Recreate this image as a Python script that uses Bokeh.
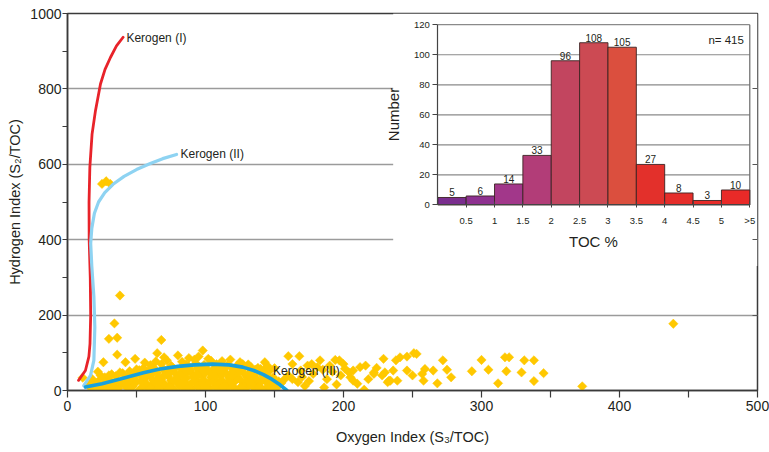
import numpy as np
from bokeh.plotting import figure
from bokeh.models import Range1d, LinearAxis, FixedTicker, CustomJSTickFormatter
from bokeh.core.properties import value
from bokeh.embed import file_html
from bokeh.resources import INLINE

FONT = "Liberation Sans"
TXT = "#231f20"

# ---------------- data: scatter (Oxygen Index, Hydrogen Index) ----------------
rowA_x = [18, 24, 31, 37, 44, 52, 58, 63, 71, 77, 84, 90, 97, 103, 110, 116, 122, 129, 135, 141, 148]
rowA_y = [4, 7, 3, 6, 5, 2, 8, 4, 6, 3, 7, 5, 2, 6, 4, 8, 3, 5, 7, 4, 6]
rowB_x = [15, 21, 28, 34, 41, 47, 55, 61, 67, 74, 81, 87, 94, 100, 107, 113, 119, 126, 132, 138, 145, 152]
rowB_y = [14, 11, 13, 10, 15, 12, 11, 14, 10, 13, 12, 15, 11, 13, 10, 14, 12, 11, 15, 13, 10, 12]
rowC_x = [20, 26, 33, 39, 46, 50, 57, 64, 70, 76, 83, 89, 96, 102, 109, 115, 121, 128, 134, 140, 147, 155]
rowC_y = [19, 22, 18, 21, 20, 23, 19, 22, 18, 21, 20, 17, 22, 19, 21, 18, 23, 20, 19, 22, 18, 20]
rowD_x = [23, 30, 36, 43, 49, 56, 62, 68, 75, 80, 86, 93, 99, 106, 112, 118, 125, 131, 137, 143, 150, 157]
rowD_y = [27, 30, 26, 29, 28, 31, 27, 30, 26, 29, 32, 28, 27, 30, 26, 31, 29, 27, 30, 28, 26, 29]
rowE_x = [27, 35, 42, 48, 54, 60, 66, 73, 79, 85, 91, 98, 104, 111, 117, 123, 130, 136, 142, 149]
rowE_y = [35, 38, 34, 37, 36, 39, 35, 38, 34, 37, 36, 39, 35, 38, 34, 37, 36, 33, 37, 35]
rowF_x = [32, 40, 47, 53, 59, 65, 72, 78, 84, 90, 96, 103, 109, 115, 121, 128, 134, 141]
rowF_y = [43, 46, 42, 45, 44, 47, 43, 46, 42, 45, 44, 47, 43, 46, 42, 45, 43, 44]
rowG_x = [45, 52, 58, 64, 71, 77, 83, 89, 95, 101, 107, 113, 120, 126, 133, 139, 146]
rowG_y = [51, 54, 50, 53, 52, 55, 51, 54, 50, 53, 52, 55, 51, 53, 50, 52, 51]
rowH_x = [55, 62, 69, 76, 82, 88, 94, 100, 106, 113, 119, 125, 132, 138, 150]
rowH_y = [59, 62, 58, 61, 60, 63, 59, 62, 58, 61, 60, 62, 58, 60, 59]
rowI_x = [60, 68, 75, 86, 93, 99, 108, 116, 124, 131, 145]
rowI_y = [67, 70, 66, 69, 72, 68, 70, 67, 66, 69, 65]
rowJ_x = [64, 72, 83, 92, 104, 112, 125, 70, 88, 95, 102, 118, 56]
rowJ_y = [77, 80, 76, 82, 79, 78, 75, 88, 86, 90, 84, 82, 74]
rowK_x = [21, 34, 47, 60, 74, 87, 100, 113, 126, 139, 152]
rowK_y = [9, 8, 10, 7, 9, 8, 10, 9, 8, 7, 9]
rowL_x = [17, 29, 42, 53, 66, 79, 92, 105, 118, 131, 144, 153]
rowL_y = [24, 25, 23, 24, 25, 23, 26, 24, 25, 24, 23, 24]
rowM_x = [30, 45, 57, 70, 82, 94, 107, 119, 132, 145]
rowM_y = [40, 41, 39, 40, 42, 40, 41, 39, 40, 38]
rowN_x = [38, 50, 62, 74, 87, 99, 111, 124, 137]
rowN_y = [48, 49, 47, 48, 49, 47, 48, 49, 47]
rowO_x = [50, 61, 73, 86, 97, 110, 123, 136, 143]
rowO_y = [56, 57, 55, 56, 57, 55, 56, 55, 56]
near_x = [11, 25, 26, 36, 42, 49, 65, 80, 98, 30, 36, 68, 34, 38, 25, 28, 31, 24, 22, 18, 123, 127, 133, 140, 143]
near_y = [34, 2, 75, 95, 75, 84, 99, 93, 106, 137, 140, 134, 178, 252, 548, 555, 548, 40, 50, 30, 66, 70, 62, 57, 75]
far_x = [160, 168, 163, 169, 160, 167, 174, 178, 183, 195, 197, 200, 204, 207, 215, 222, 229, 230, 233,
         177, 181, 194, 207, 205, 212, 216, 222, 228, 234, 236, 238, 241, 246, 251, 253, 232, 239, 246,
         250, 257, 258, 259, 265, 272, 275, 278, 268, 293, 300, 305, 312, 317, 320, 318, 329, 331, 338,
         338, 345, 373, 439, 163, 170, 172, 185, 188, 190, 198, 210, 186, 175, 218, 224, 192, 201]
far_y = [91, 91, 70, 53, 40, 22, 66, 44, 80, 16, 80, 70, 48, 26, 2, 48, 84, 48, 26,
         70, 62, 81, 53, 35, 62, 66, 44, 40, 26, 53, 80, 88, 90, 99, 97, 22, 26, 53,
         40, 44, 26, 57, 53, 80, 55, 35, 19, 51, 81, 55, 19, 88, 88, 51, 48, 80, 80,
         25, 46, 11, 177, 30, 36, 12, 55, 30, 66, 40, 18, 8, 25, 30, 60, 50, 58]

oi = (rowA_x + rowB_x + rowC_x + rowD_x + rowE_x + rowF_x + rowG_x + rowH_x + rowI_x + rowJ_x
      + rowK_x + rowL_x + rowM_x + rowN_x + rowO_x + near_x + far_x)
hi = (rowA_y + rowB_y + rowC_y + rowD_y + rowE_y + rowF_y + rowG_y + rowH_y + rowI_y + rowJ_y
      + rowK_y + rowL_y + rowM_y + rowN_y + rowO_y + near_y + far_y)

# kerogen evolution curves
k1_x = [8, 13, 15.5, 16.3, 16.8, 16.5, 15.7, 15.6, 16.2, 17.8, 20.3, 23.9, 27.2, 31.2, 35.5, 40.3]
k1_y = [27, 53, 90, 124, 200, 300, 400, 500, 592, 680, 743, 813, 852, 884, 914, 937]
k2_x = [11.8, 16.7, 19.1, 19.8, 19.1, 17.6, 16.8, 17.6, 19.5, 22.5, 27, 33, 41, 50, 60, 69, 79]
k2_y = [13, 40, 80, 168, 250, 330, 390, 430, 470, 500, 525, 547, 568, 586, 602, 615, 626]
k3_x = [13, 25, 43, 55, 67, 80, 92, 105, 117, 127, 135, 142, 148, 154, 159]
k3_y = [9, 18, 35, 47, 57, 64, 68, 70, 68, 62, 53, 42, 30, 15, 0]
kerogen_labels = ["Kerogen (I)", "Kerogen (II)", "Kerogen (III)"]

# histogram of TOC
toc_left = [0, 0.5, 1, 1.5, 2, 2.5, 3, 3.5, 4, 4.5, 5]
toc_counts = [5, 6, 14, 33, 96, 108, 105, 27, 8, 3, 10]
toc_ticks = [0.5, 1, 1.5, 2, 2.5, 3, 3.5, 4, 4.5, 5, 5.5]
toc_tick_labels = ["0.5", "1", "1.5", "2", "2.5", "3", "3.5", "4", "4.5", "5", ">5"]
bar_colors = ["#7a2e8e", "#8e3190", "#a2378a", "#b23d78", "#c2455f", "#cc4a53", "#db4f3e",
              "#e3302b", "#e52d2a", "#e72c29", "#e92a28"]
hist_yticks = [0, 20, 40, 60, 80, 100, 120]

# main axes ticks
x_ticks = [0, 100, 200, 300, 400, 500]
x_minor = [50, 150, 250, 350, 450]
y_ticks = [0, 200, 400, 600, 800, 1000]
y_minor = [100, 300, 500, 700, 900]
x_title = "Oxygen Index (S\u2083/TOC)"
y_title = "Hydrogen Index (S\u2082/TOC)"

# ---------------- figure ----------------
p = figure(width=769, height=452, x_range=Range1d(0, 500), y_range=Range1d(0, 1000),
           output_backend="svg", toolbar_location=None,
           min_border_left=67, min_border_right=12, min_border_top=13, min_border_bottom=62)
p.background_fill_color = "white"
p.border_fill_color = "white"
p.outline_line_color = "#3a3a3a"
p.outline_line_width = 1.5
p.xgrid.visible = False
p.ygrid.ticker = FixedTicker(ticks=[200, 400, 600, 800])
p.ygrid.grid_line_color = "#9b9b9b"
p.ygrid.grid_line_width = 1.5

xa = p.xaxis[0]
xa.ticker = FixedTicker(ticks=x_ticks, minor_ticks=x_minor)
xa.axis_label = x_title
xa.major_tick_out = 7
xa.major_tick_in = 0
xa.minor_tick_out = 7
xa.minor_tick_in = 0
xa.major_label_standoff = 3
xa.axis_label_standoff = 15

ya = p.yaxis[0]
ya.ticker = FixedTicker(ticks=y_ticks, minor_ticks=y_minor)
ya.axis_label = y_title
ya.major_tick_out = 5
ya.major_tick_in = 0
ya.minor_tick_out = 5
ya.minor_tick_in = 0
ya.major_label_standoff = 1
ya.axis_label_standoff = 4

for ax in (xa, ya):
    ax.axis_line_color = "#3a3a3a"
    ax.axis_line_width = 1.5
    ax.major_tick_line_color = "#3a3a3a"
    ax.minor_tick_line_color = "#3a3a3a"
    ax.major_tick_line_width = 1.2
    ax.minor_tick_line_width = 1.2
    ax.major_label_text_font = FONT
    ax.major_label_text_font_size = "14px"
    ax.major_label_text_color = TXT
    ax.axis_label_text_font = FONT
    ax.axis_label_text_font_size = "14.5px"
    ax.axis_label_text_font_style = "normal"
    ax.axis_label_text_color = TXT

ra = LinearAxis(ticker=FixedTicker(ticks=[200, 400, 600, 800]),
                formatter=CustomJSTickFormatter(code="return ''"),
                major_tick_in=5, major_tick_out=0, minor_tick_line_color=None,
                axis_line_color=None, major_tick_line_color="#555555",
                major_label_standoff=0)
p.add_layout(ra, "right")

# scatter
p.scatter(oi, hi, marker="square", angle=np.pi / 4, size=6.6,
          fill_color="#ffc800", line_color="#ffc800", line_width=0.5)

# kerogen curves
p.line(k1_x, k1_y, line_color="#e8232a", line_width=2.8, line_join="round", line_cap="round")
p.line(k2_x, k2_y, line_color="#8ed3f2", line_width=3.2, line_join="round", line_cap="round")
p.line(k3_x, k3_y, line_color="#17a1dc", line_width=3.6, line_join="round", line_cap="round")
p.text(x=[42.7, 81.9, 149], y=[936, 626, 53], text=kerogen_labels,
       text_font=value(FONT), text_font_size="12px", text_color=TXT,
       text_baseline="middle", text_align="left")

# ---------------- inset histogram ----------------
p.quad(left=236, right=500, bottom=330, top=1000, fill_color="white", line_color=None)

p.extra_x_ranges = {"hx": Range1d(-6.528, 5.636)}
p.extra_y_ranges = {"hy": Range1d(-123.46, 127.45)}

grid_vals = hist_yticks[1:]
p.segment(x0=[0] * len(grid_vals), x1=[5.5] * len(grid_vals), y0=grid_vals, y1=grid_vals,
          x_range_name="hx", y_range_name="hy", line_color="#8a8a8a", line_width=1.2)
p.segment(x0=[5.5], x1=[5.5], y0=[0], y1=[120], x_range_name="hx", y_range_name="hy",
          line_color="#6a6a6a", line_width=1.2)

toc_right = [l + 0.5 for l in toc_left]
p.quad(left=toc_left, right=toc_right, bottom=0, top=toc_counts,
       x_range_name="hx", y_range_name="hy",
       fill_color=bar_colors, line_color="#3b2222", line_width=0.9)

centers = [l + 0.25 for l in toc_left]
p.text(x=centers, y=toc_counts, text=[str(c) for c in toc_counts],
       x_range_name="hx", y_range_name="hy", y_offset=-1,
       text_font=value(FONT), text_font_size="10px", text_color=TXT,
       text_align="center", text_baseline="bottom")
p.text(x=[4.77], y=[109.5], text=[f"n= {sum(toc_counts)}"],
       x_range_name="hx", y_range_name="hy",
       text_font=value(FONT), text_font_size="11.5px", text_color=TXT,
       text_align="left", text_baseline="middle")

hx_axis = LinearAxis(x_range_name="hx", y_range_name="hy", fixed_location=0, bounds=(0, 5.5),
                     ticker=FixedTicker(ticks=toc_ticks, minor_ticks=[]),
                     formatter=CustomJSTickFormatter(args=dict(t=toc_ticks, l=toc_tick_labels),
                                                     code="const i = t.indexOf(tick); return i >= 0 ? l[i] : '';"),
                     axis_label="TOC %", major_tick_in=3, major_tick_out=3,
                     major_label_standoff=7, axis_label_standoff=4)
hy_axis = LinearAxis(x_range_name="hx", y_range_name="hy", fixed_location=0, bounds=(0, 120),
                     ticker=FixedTicker(ticks=hist_yticks, minor_ticks=[]),
                     axis_label="Number", major_tick_in=0, major_tick_out=5,
                     major_label_standoff=3, axis_label_standoff=9)
for ax in (hx_axis, hy_axis):
    ax.axis_line_color = "#444444"
    ax.axis_line_width = 1.2
    ax.major_tick_line_color = "#444444"
    ax.major_label_text_font = FONT
    ax.major_label_text_font_size = "9.5px"
    ax.major_label_text_color = TXT
    ax.axis_label_text_font = FONT
    ax.axis_label_text_font_size = "15px"
    ax.axis_label_text_font_style = "normal"
    ax.axis_label_text_color = TXT
p.add_layout(hx_axis, "below")
p.add_layout(hy_axis, "left")

open("out.html", "w").write(file_html(p, INLINE))
